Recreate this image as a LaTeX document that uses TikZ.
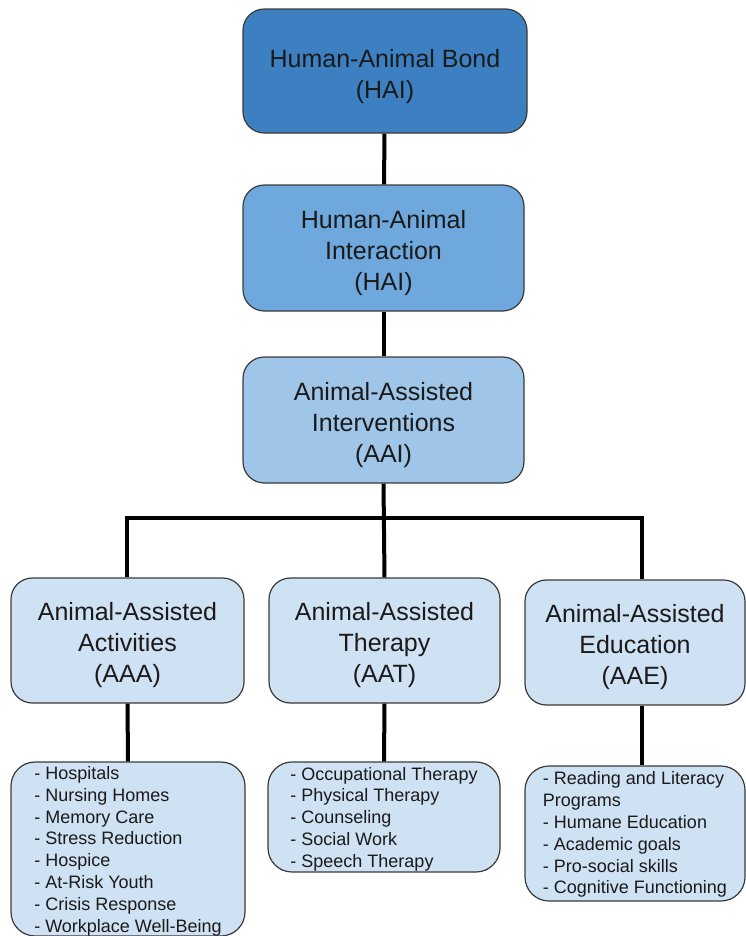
\documentclass[tikz,border=0pt]{standalone}
\usepackage{fontspec}
\setmainfont{Liberation Sans}
\definecolor{dblue}{HTML}{3D80C2}
\definecolor{lblueA}{HTML}{6FA8DC}
\definecolor{lblueB}{HTML}{9FC5E8}
\definecolor{lblueC}{HTML}{CFE2F3}
\definecolor{edgegray}{HTML}{3A3A3A}
\definecolor{txt}{HTML}{1A1A1A}
\newcommand\toprule[1]{\rule{0pt}{#1}}
\begin{document}
\begin{tikzpicture}[x=0.75pt,y=-0.75pt,
  box/.style={draw=edgegray,line width=0.9pt,rounded corners=16pt,align=center,text=txt,
    font=\fontsize{18.75pt}{23.25pt}\selectfont,inner sep=0pt},
  listbox/.style={draw=edgegray,line width=0.9pt,rounded corners=18pt,align=left,text=txt,
    fill=lblueC,font=\fontsize{13.5pt}{16.35pt}\selectfont,inner sep=0pt},
  conn/.style={line width=3pt,black}]
\useasboundingbox (0,0) rectangle (746,936);
% title boxes
\node[box,fill=dblue,minimum width=213pt,minimum height=93pt] (HAB) at (385,71)
  {\toprule{22pt}Human-Animal Bond\\(HAI)};
\node[box,fill=lblueA,minimum width=210.75pt,minimum height=94.5pt] (HAI) at (383.5,248)
  {\toprule{21.2pt}Human-Animal\\Interaction\\(HAI)};
\node[box,fill=lblueB,minimum width=210.75pt,minimum height=94.5pt] (AAI) at (383.5,420)
  {\toprule{21.2pt}Animal-Assisted\\Interventions\\(AAI)};
\node[box,fill=lblueC,minimum width=174.75pt,minimum height=93.75pt] (AAA) at (127.5,640.5)
  {\toprule{19.7pt}Animal-Assisted\\Activities\\(AAA)};
\node[box,fill=lblueC,minimum width=173.25pt,minimum height=93.75pt] (AAT) at (384.5,640.5)
  {\toprule{19.7pt}Animal-Assisted\\Therapy\\(AAT)};
\node[box,fill=lblueC,minimum width=165pt,minimum height=93.75pt] (AAE) at (635,642.5)
  {\toprule{19.7pt}Animal-Assisted\\Education\\(AAE)};
% list boxes
\node[listbox,minimum width=175.5pt,minimum height=130.5pt] (AAAl) at (128,849)
  {\toprule{12.9pt}- Hospitals\\- Nursing Homes\\- Memory Care\\- Stress Reduction\\- Hospice\\- At-Risk Youth\\- Crisis Response\\- Workplace Well-Being};
\node[listbox,minimum width=174pt,minimum height=82.5pt] (AATl) at (384,817)
  {\toprule{12.9pt}- Occupational Therapy\\- Physical Therapy\\- Counseling\\- Social Work\\- Speech Therapy};
\node[listbox,minimum width=165pt,minimum height=101.25pt] (AAEl) at (635,833.5)
  {\toprule{11.5pt}- Reading and Literacy\\Programs\\- Humane Education\\- Academic goals\\- Pro-social skills\\- Cognitive Functioning};
% connectors
\coordinate (busL) at (127,518);
\coordinate (busR) at (642,518);
\draw[conn] (HAB) -- (HAI);
\draw[conn] (HAI) -- (AAI);
\draw[conn] (AAI.south) -- (AAT.north);
\draw[conn] (busL |- AAA.north) -- (busL) -- (busR) -- (busR |- AAE.north);
\draw[conn] (AAA.south) -- (AAAl.north);
\draw[conn] (AAT.south) -- (AATl.north);
\draw[conn] (busR |- AAE.south) -- (busR |- AAEl.north);
\end{tikzpicture}
\end{document}
